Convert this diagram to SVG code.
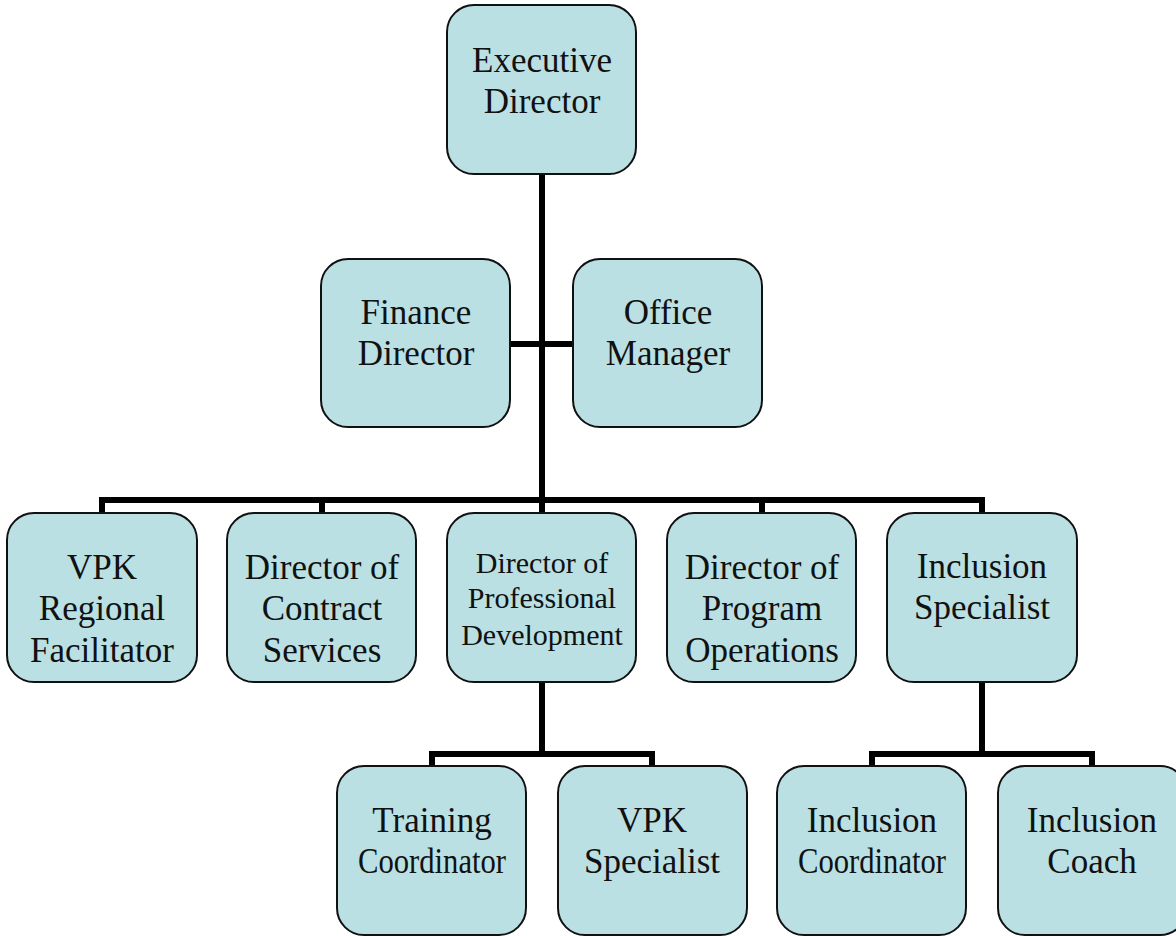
<svg xmlns="http://www.w3.org/2000/svg" width="1176" height="936" viewBox="0 0 1176 936">
<style>
.box{fill:#BAE0E3;stroke:#111;stroke-width:2}
.t{font-family:"Liberation Serif","Times New Roman",serif;font-size:35px;fill:#111;text-anchor:middle}
.s{font-size:30px}
.c{fill:none;stroke:#000;stroke-width:6;stroke-linejoin:miter;stroke-linecap:butt}
</style>
<rect width="1176" height="936" fill="#fff"/>
<g id="connectors">
<path class="c" d="M542,174 V513"/>
<path class="c" d="M510,344 H573"/>
<path class="c" d="M102,513 V500 H982 V513 M322,500 V513 M762,500 V513"/>
<path class="c" d="M542,682 V754 M432,766 V754 H652 V766"/>
<path class="c" d="M982,682 V754 M872,766 V754 H1092 V766"/>
</g>
<g id="exec"><rect class="box" x="447" y="5" width="189" height="169" rx="27"/><text class="t" x="542" y="72">Executive</text><text class="t" x="542" y="113">Director</text></g>
<g id="finance"><rect class="box" x="321" y="259" width="189" height="168" rx="27"/><text class="t" x="416" y="324">Finance</text><text class="t" x="416" y="365">Director</text></g>
<g id="office"><rect class="box" x="573" y="259" width="189" height="168" rx="27"/><text class="t" x="668" y="324">Office</text><text class="t" x="668" y="365">Manager</text></g>
<g id="vpk-regional"><rect class="box" x="7" y="513" width="190" height="169" rx="27"/><text class="t" x="102" y="579">VPK</text><text class="t" x="102" y="620">Regional</text><text class="t" x="102" y="662">Facilitator</text></g>
<g id="contract"><rect class="box" x="227" y="513" width="189" height="169" rx="27"/><text class="t" x="322" y="579">Director of</text><text class="t" x="322" y="620">Contract</text><text class="t" x="322" y="662">Services</text></g>
<g id="profdev"><rect class="box" x="447" y="513" width="189" height="169" rx="27"/><text class="t s" x="542" y="573">Director of</text><text class="t s" x="542" y="608">Professional</text><text class="t s" x="542" y="645">Development</text></g>
<g id="programops"><rect class="box" x="667" y="513" width="189" height="169" rx="27"/><text class="t" x="762" y="579">Director of</text><text class="t" x="762" y="620">Program</text><text class="t" x="762" y="662">Operations</text></g>
<g id="incl-spec"><rect class="box" x="887" y="513" width="190" height="169" rx="27"/><text class="t" x="982" y="578">Inclusion</text><text class="t" x="982" y="619">Specialist</text></g>
<g id="training"><rect class="box" x="337" y="766" width="189" height="169" rx="27"/><text class="t" x="432" y="832">Training</text><text class="t" x="432" y="873" textLength="148" lengthAdjust="spacingAndGlyphs">Coordinator</text></g>
<g id="vpk-spec"><rect class="box" x="558" y="766" width="189" height="169" rx="27"/><text class="t" x="652" y="832">VPK</text><text class="t" x="652" y="873">Specialist</text></g>
<g id="incl-coord"><rect class="box" x="777" y="766" width="189" height="169" rx="27"/><text class="t" x="872" y="832">Inclusion</text><text class="t" x="872" y="873" textLength="148" lengthAdjust="spacingAndGlyphs">Coordinator</text></g>
<g id="incl-coach"><rect class="box" x="998" y="766" width="189" height="169" rx="27"/><text class="t" x="1092" y="832">Inclusion</text><text class="t" x="1092" y="873">Coach</text></g>
</svg>
